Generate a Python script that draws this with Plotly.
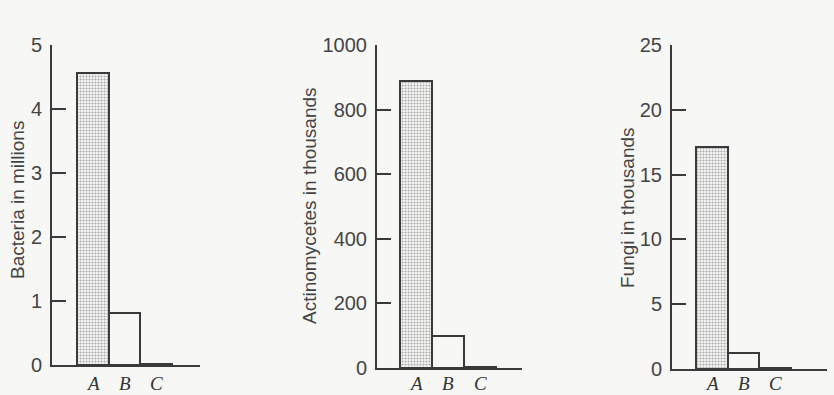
import plotly.graph_objects as go

categories = ["A", "B", "C"]
bacteria_millions = [4.57, 0.81, 0.02]
actinomycetes_thousands = [888, 99, 4]
fungi_thousands = [17.1, 1.2, 0.1]

titles = ["Bacteria in millions", "Actinomycetes in thousands", "Fungi in thousands"]
y_ranges = [[0, 5], [0, 1000], [0, 25]]
y_dtick = [1, 200, 5]
series = [bacteria_millions, actinomycetes_thousands, fungi_thousands]

W, H = 834, 395
BG = "#f7f7f6"
LINE = "#3a3a3a"
TXT = "#444444"

# pixel layout (x0, x1, y_bottom, y_top, xrange)
panels = [
    (52, 200, 365, 45, [-1.29, 3.38]),
    (377, 522, 368, 45, [-1.22, 3.31]),
    (672, 827, 369, 45, [-1.26, 3.63]),
]
title_pos = [(17, 200), (309, 206), (628, 208)]
cat_label_y = [383, 383, 383]

fig = go.Figure()
layout = dict(
    template="none",
    width=W, height=H, autosize=False,
    margin=dict(l=0, r=0, t=0, b=0, pad=0),
    paper_bgcolor=BG, plot_bgcolor=BG,
    showlegend=False, bargap=0,
    font=dict(family="Liberation Sans, Arial, sans-serif", color=TXT, size=20),
    annotations=[],
)

for i, (vals, (x0, x1, yb, yt, xr)) in enumerate(zip(series, panels)):
    n = "" if i == 0 else str(i + 1)
    fills = ["#a8a8a8", BG, BG]
    fig.add_trace(go.Bar(
        x=categories, y=vals,
        xaxis="x" + n, yaxis="y" + n,
        width=1,
        marker=dict(
            color=fills,
            line=dict(color=LINE, width=2),
            pattern=dict(shape=[".", "", ""], fgcolor="#7c7c7c", bgcolor="#b6b6b6",
                         size=3, solidity=0.4, fillmode="replace"),
        ),
        hoverinfo="skip",
    ))
    layout["xaxis" + n] = dict(
        domain=[x0 / W, x1 / W], anchor="y" + n,
        range=xr, type="category", automargin=False,
        showline=True, linecolor=LINE, linewidth=2,
        showgrid=False, zeroline=False, ticks="", showticklabels=False,
    )
    layout["yaxis" + n] = dict(
        domain=[(H - yb) / H, (H - yt) / H], anchor="x" + n,
        range=y_ranges[i], dtick=y_dtick[i], automargin=False,
        showline=True, linecolor=LINE, linewidth=2,
        showgrid=False, zeroline=False,
        ticks="inside", ticklen=14, tickwidth=1.5, tickcolor=LINE,
        tickfont=dict(size=20, color=TXT),
        ticklabelstandoff=4,
    )
    tx, ty = title_pos[i]
    layout["annotations"].append(dict(
        text=titles[i], x=tx / W, y=(H - ty) / H, xref="paper", yref="paper",
        textangle=-90, showarrow=False, xanchor="center", yanchor="middle",
        font=dict(size=19, color=TXT),
    ))
    for c in categories:
        layout["annotations"].append(dict(
            text=c, x=c, xref="x" + n, y=(H - cat_label_y[i]) / H, yref="paper",
            showarrow=False, xanchor="center", yanchor="middle",
            font=dict(family="Liberation Serif, Times New Roman, serif",
                      style="italic", size=19, color="#333333"),
        ))

fig.update_layout(**layout)
fig.write_html(
    "out.html",
    config={"displayModeBar": False},
    post_script="document.body.style.margin='0';document.body.style.overflow='hidden';",
)
